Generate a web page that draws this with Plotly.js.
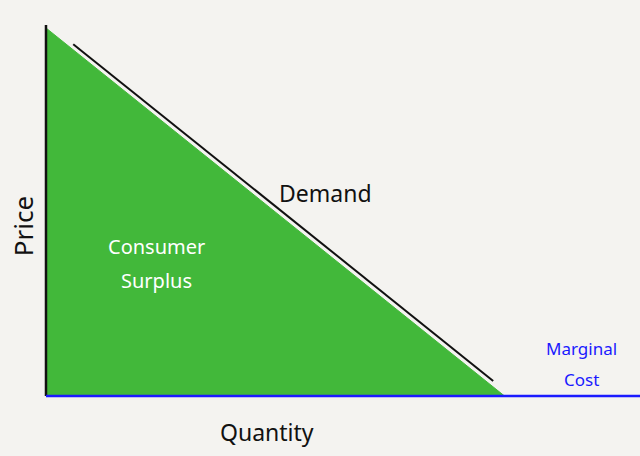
<!DOCTYPE html>
<html>
<head>
<meta charset="utf-8">
<script src="https://cdn.plot.ly/plotly-3.0.1.min.js"></script>
<style>
  html, body { margin: 0; padding: 0; background: #f4f3f0; }
  #chart { width: 640px; height: 456px; }
</style>
</head>
<body>
<div id="chart"></div>
<script>
// consumer surplus triangle (quantity, price)
var surplusQ = [0, 0, 101, 0];
var surplusP = [100, 0, 0, 100];

// demand curve
var demandQ = [6, 98.5];
var demandP = [95.6, 4.1];

// marginal cost (flat)
var mcQ = [0, 131];
var mcP = [0, 0];

// price axis stroke
var priceAxisQ = [0, 0];
var priceAxisP = [0, 100.8];

var hand = '"Noto Sans", "DejaVu Sans", sans-serif';

var surplus = {
  x: surplusQ, y: surplusP,
  mode: 'lines', fill: 'toself',
  fillcolor: '#42b83a',
  line: { color: '#42b83a', width: 1 },
  hoverinfo: 'skip'
};

var demand = {
  x: demandQ, y: demandP,
  mode: 'lines',
  line: { color: '#111111', width: 2 },
  hoverinfo: 'skip'
};

var mc = {
  x: mcQ, y: mcP,
  mode: 'lines',
  line: { color: '#1a1aff', width: 2.5 },
  hoverinfo: 'skip'
};

var priceAxis = {
  x: priceAxisQ, y: priceAxisP,
  mode: 'lines',
  line: { color: '#111111', width: 2.5 },
  hoverinfo: 'skip'
};

function label(x, y, text, size, color, angle) {
  return { x: x, y: y, text: text, showarrow: false, textangle: angle || 0,
           font: { family: hand, size: size, color: color } };
}

var layout = {
  width: 640, height: 456,
  margin: { l: 0, r: 0, t: 0, b: 0 },
  paper_bgcolor: '#f4f3f0',
  plot_bgcolor: '#f4f3f0',
  showlegend: false,
  xaxis: { range: [-10.13, 130.84], visible: false, fixedrange: true },
  yaxis: { range: [-16.3, 107.6], visible: false, fixedrange: true },
  annotations: [
    label(-5.0, 46.2, 'Price', 26, '#111', -90),
    label(48.7, -9.8, 'Quantity', 23, '#111'),
    label(61.5, 55.2, 'Demand', 23, '#111'),
    label(24.4, 40.5, 'Consumer', 20, '#ffffff'),
    label(24.4, 31.3, 'Surplus', 20, '#ffffff'),
    label(118, 13.0, 'Marginal', 17, '#1a1aff'),
    label(118, 4.6, 'Cost', 17, '#1a1aff')
  ]
};

Plotly.newPlot('chart', [surplus, demand, priceAxis, mc], layout, { staticPlot: true });
</script>
</body>
</html>
